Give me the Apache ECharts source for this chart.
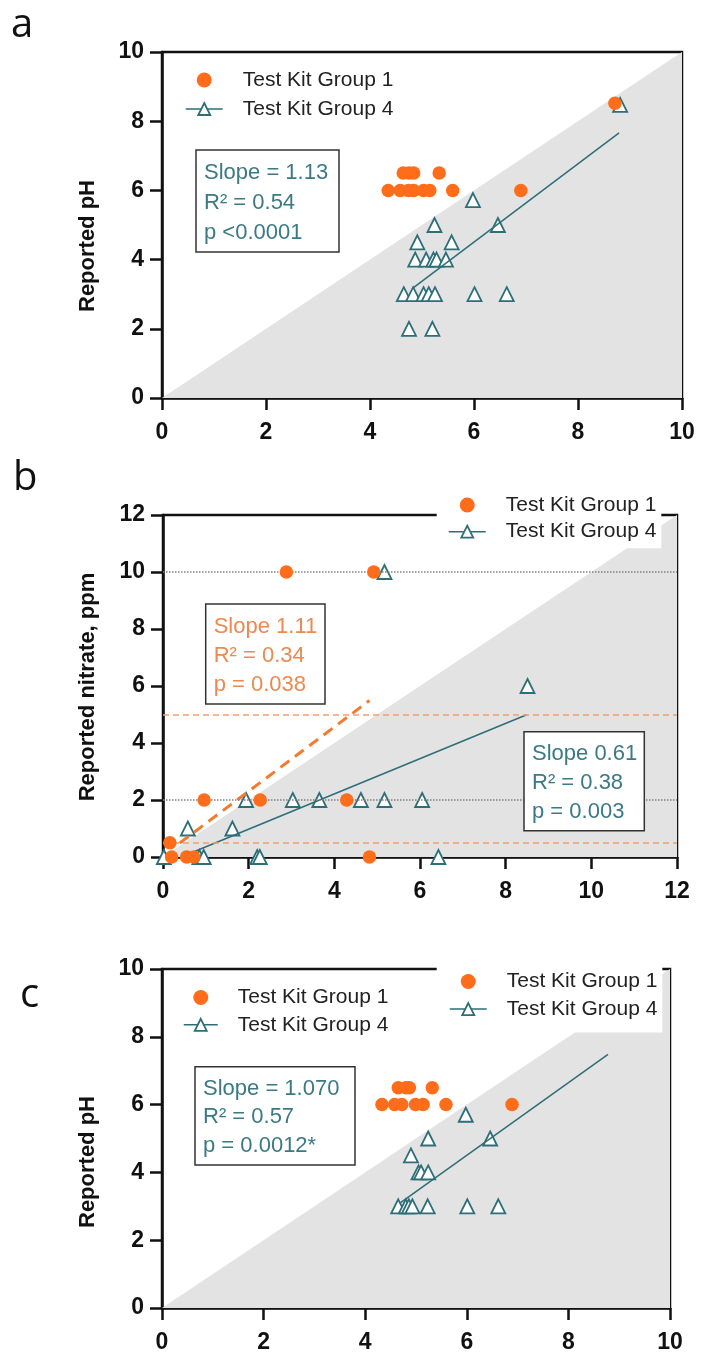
<!DOCTYPE html>
<html><head><meta charset="utf-8">
<script src="https://cdn.jsdelivr.net/npm/echarts@6.0.0/dist/echarts.min.js"></script>
<style>html,body{margin:0;padding:0;background:#fff}#c{width:701px;height:1354px}</style>
</head><body><div id="c"></div>
<script>
// ---------- DATA ----------
const seriesNames = ['Test Kit Group 1', 'Test Kit Group 4'];
// Panel a (pH)
const phA_group1 = [[4.35,6],[4.58,6],[4.74,6],[4.84,6],[5.03,6],[5.15,6],[5.59,6],[6.9,6],[4.64,6.5],[4.75,6.5],[4.84,6.5],[5.33,6.5],[8.71,8.52]];
const phA_group4 = [[5.98,5.72],[5.24,5],[6.46,5],[4.91,4.5],[5.57,4.5],[4.87,4],[5.08,4],[5.22,4],[5.28,4],[5.46,4],[4.65,3],[4.83,3],[5.03,3],[5.13,3],[5.25,3],[6.01,3],[6.63,3],[4.75,2],[5.2,2],[8.81,8.47]];
const phA_fit4 = [[4.83,3.18],[8.79,7.66]];
const phA_identity = [[0,0],[10,10]];
const phA_stats = ['Slope = 1.13','R\u00b2 = 0.54','p <0.0001'];
// Panel b (nitrate)
const nitB_group1 = [[2.88,10],[4.92,10],[0.96,2],[2.27,2],[4.29,2],[0.16,0.5],[0.2,0],[0.55,0],[0.72,0],[4.82,0]];
const nitB_group4 = [[5.17,10],[0.58,1],[1.62,1],[1.94,2],[3.03,2],[3.65,2],[4.62,2],[5.17,2],[6.05,2],[8.51,6],[0.02,0],[0.85,0],[0.95,0],[2.2,0],[2.26,0],[6.43,0]];
const nitB_fit1 = [[0.39,0.49],[4.82,5.49]];
const nitB_fit4 = [[0.55,0.08],[8.49,4.99]];
const nitB_identity = [[0,0],[12,12]];
const nitB_dotted = [10, 2];
const nitB_dashed = [5, 0.5];
const nitB_stats1 = ['Slope 1.11','R\u00b2 = 0.34','p = 0.038'];
const nitB_stats4 = ['Slope 0.61','R\u00b2 = 0.38','p = 0.003'];
// Panel c (pH)
const phC_group1 = [[4.33,6],[4.58,6],[4.72,6],[4.99,6],[5.14,6],[5.59,6],[6.89,6],[4.65,6.5],[4.8,6.5],[4.87,6.5],[5.32,6.5]];
const phC_group4 = [[5.98,5.7],[5.24,5],[6.46,5],[4.9,4.5],[5.05,4],[5.1,4],[5.24,4],[4.65,3],[4.8,3],[4.86,3],[4.93,3],[5.23,3],[6.01,3],[6.62,3]];
const phC_fit4 = [[4.69,3.1],[8.78,7.48]];
const phC_identity = [[0,0],[10,10]];
const phC_stats = ['Slope = 1.070','R\u00b2 = 0.57','p = 0.0012*'];
// Axes
const axisMaxA = 10, axisMaxB = 12, axisMaxC = 10, tickStep = 2;
const yNameA = 'Reported pH', yNameB = 'Reported nitrate, ppm', yNameC = 'Reported pH';
const panelLetters = ['a','b','c'];

// ---------- STYLE ----------
const FONT = '"Liberation Sans", Arial, sans-serif';
const TEAL = '#2d6e78', ORANGE = '#ff6d1a', TEAL_TXT = '#3b7a84', ORANGE_TXT = '#ea8a50';
const GRAY = '#e3e3e3', AX = '#111';

const grids = [
  {left:162, top:52, width:520, height:346},
  {left:163, top:515, width:514, height:342},
  {left:162, top:969, width:508, height:339}
].map(g => Object.assign({show:true, borderColor:AX, borderWidth:2.5, backgroundColor:'transparent', containLabel:false, outerBoundsMode:'none'}, g));

function xAx(gi, max){ return {type:'value', gridIndex:gi, min:0, max:max, interval:tickStep,
  axisLine:{show:true, onZero:false, lineStyle:{color:AX, width:2.5}},
  axisTick:{show:true, length:12, lineStyle:{color:AX, width:2.5}},
  axisLabel:{margin:23, fontSize:23, fontWeight:'bold', color:AX, fontFamily:FONT},
  splitLine:{show:false}}; }
function yAx(gi, max){ return {type:'value', gridIndex:gi, min:0, max:max, interval:tickStep,
  axisLine:{show:true, onZero:false, lineStyle:{color:AX, width:2.5}},
  axisTick:{show:true, length:12, lineStyle:{color:AX, width:2.5}},
  axisLabel:{margin:18, fontSize:23, fontWeight:'bold', color:AX, fontFamily:FONT},
  splitLine:{show:false}}; }

function area(gi, data){ return {type:'line', name:'identity'+gi, xAxisIndex:gi, yAxisIndex:gi, data:data, symbol:'none',
  lineStyle:{width:0, opacity:0}, areaStyle:{color:GRAY, opacity:1}, z:1, silent:true}; }
function fit4(gi, data){ return {type:'line', name:seriesNames[1], xAxisIndex:gi, yAxisIndex:gi, data:data,
  symbol:'triangle', showSymbol:false, symbolSize:13.5, itemStyle:{color:'#fff', borderColor:TEAL, borderWidth:1.8},
  lineStyle:{color:TEAL, width:1.5}, z:4, silent:true}; }
function tri(gi, data){ return {type:'scatter', name:seriesNames[1], xAxisIndex:gi, yAxisIndex:gi, data:data, clip:false,
  symbol:'triangle', symbolSize:14, itemStyle:{color:'#fff', borderColor:TEAL, borderWidth:1.8, opacity:1}, z:3}; }
function dots(gi, data){ return {type:'scatter', name:seriesNames[0], xAxisIndex:gi, yAxisIndex:gi, data:data, clip:false,
  symbol:'circle', symbolSize:13.5, itemStyle:{color:ORANGE, opacity:1}, z:5}; }

const series = [
  area(0, phA_identity), fit4(0, phA_fit4), tri(0, phA_group4), dots(0, phA_group1),
  area(1, nitB_identity),
  {type:'line', name:'refs', xAxisIndex:1, yAxisIndex:1, data:[], symbol:'none', silent:true,
    markLine:{silent:true, symbol:'none', label:{show:false}, animation:false,
      data: nitB_dotted.map(v => ({yAxis:v, lineStyle:{type:'dotted', color:'#808080', width:1.5}}))
        .concat(nitB_dashed.map(v => ({yAxis:v, lineStyle:{type:[6,4], color:'#f2a06c', width:1.5}})))}},
  {type:'line', name:'fit1', xAxisIndex:1, yAxisIndex:1, data:nitB_fit1, symbol:'none',
    lineStyle:{color:'#f47a30', width:3, type:[11,7]}, z:4, silent:true},
  fit4(1, nitB_fit4), tri(1, nitB_group4), dots(1, nitB_group1),
  area(2, phC_identity), fit4(2, phC_fit4), tri(2, phC_group4), dots(2, phC_group1)
];

const legendBase = {orient:'vertical', align:'left', itemWidth:37, itemHeight:15,
  textStyle:{fontSize:21, color:'#222', fontFamily:FONT, padding:[0,0,0,15]},
  data:[{name:seriesNames[0]}, {name:seriesNames[1], itemStyle:{color:'#fff', borderColor:TEAL, borderWidth:1.8}, lineStyle:{color:TEAL, width:1.5}}],
  selectedMode:false};
const legends = [
  Object.assign({}, legendBase, {left:185, top:69.5, itemGap:8, padding:0}),
  Object.assign({}, legendBase, {left:436.7, top:488.5, itemGap:5.7, padding:[6,5,6,11.3], backgroundColor:'#fff'}),
  Object.assign({}, legendBase, {left:183, top:987, itemGap:6.3, padding:0, itemWidth:34}),
  Object.assign({}, legendBase, {left:436.7, top:963, itemGap:6.6, padding:[8,5,13,12.3], backgroundColor:'#fff'})
];

function statBox(x, y, w, h, lines, color, lh){
  return {type:'group', z:100, children:[
    {type:'rect', shape:{x:x, y:y, width:w, height:h}, style:{fill:'#fff', stroke:'#333', lineWidth:1.5}, z:100},
    {type:'text', x:x+8, y:y+8, z:101, style:{text:lines.join('\n'), font:'22px '+FONT, fill:color, lineHeight:lh, textVerticalAlign:'top'}}
  ]};
}
function yName(x, y, txt){ return {type:'text', x:x, y:y, rotation:Math.PI/2, z:100,
  style:{text:txt, font:'bold 22px '+FONT, fill:AX, textAlign:'center', textVerticalAlign:'middle'}}; }
function letter(x, y, t){ return {type:'text', x:x, y:y, z:100, style:{text:t, font:'40px "Open Sans", sans-serif', fill:'#111', textVerticalAlign:'middle'}}; }

const graphic = [
  statBox(196, 150, 143, 102, phA_stats, TEAL_TXT, 30),
  statBox(205.7, 604, 119.3, 100, nitB_stats1, ORANGE_TXT, 29),
  statBox(524, 731.7, 120.3, 99, nitB_stats4, TEAL_TXT, 29),
  statBox(195, 1066.7, 160, 98.3, phC_stats, TEAL_TXT, 28.3),
  yName(88, 246, yNameA), yName(88, 687, yNameB), yName(88, 1162, yNameC),
  letter(11, 26, panelLetters[0]), letter(13, 479, panelLetters[1]), letter(20, 996, panelLetters[2])
];

const chart = echarts.init(document.getElementById('c'), null, {renderer:'canvas', width:701, height:1354});
chart.setOption({
  animation:false, backgroundColor:'#fff',
  grid: grids,
  xAxis: [xAx(0, axisMaxA), xAx(1, axisMaxB), xAx(2, axisMaxC)],
  yAxis: [yAx(0, axisMaxA), yAx(1, axisMaxB), yAx(2, axisMaxC)],
  legend: legends,
  series: series,
  graphic: graphic
});
</script></body></html>
